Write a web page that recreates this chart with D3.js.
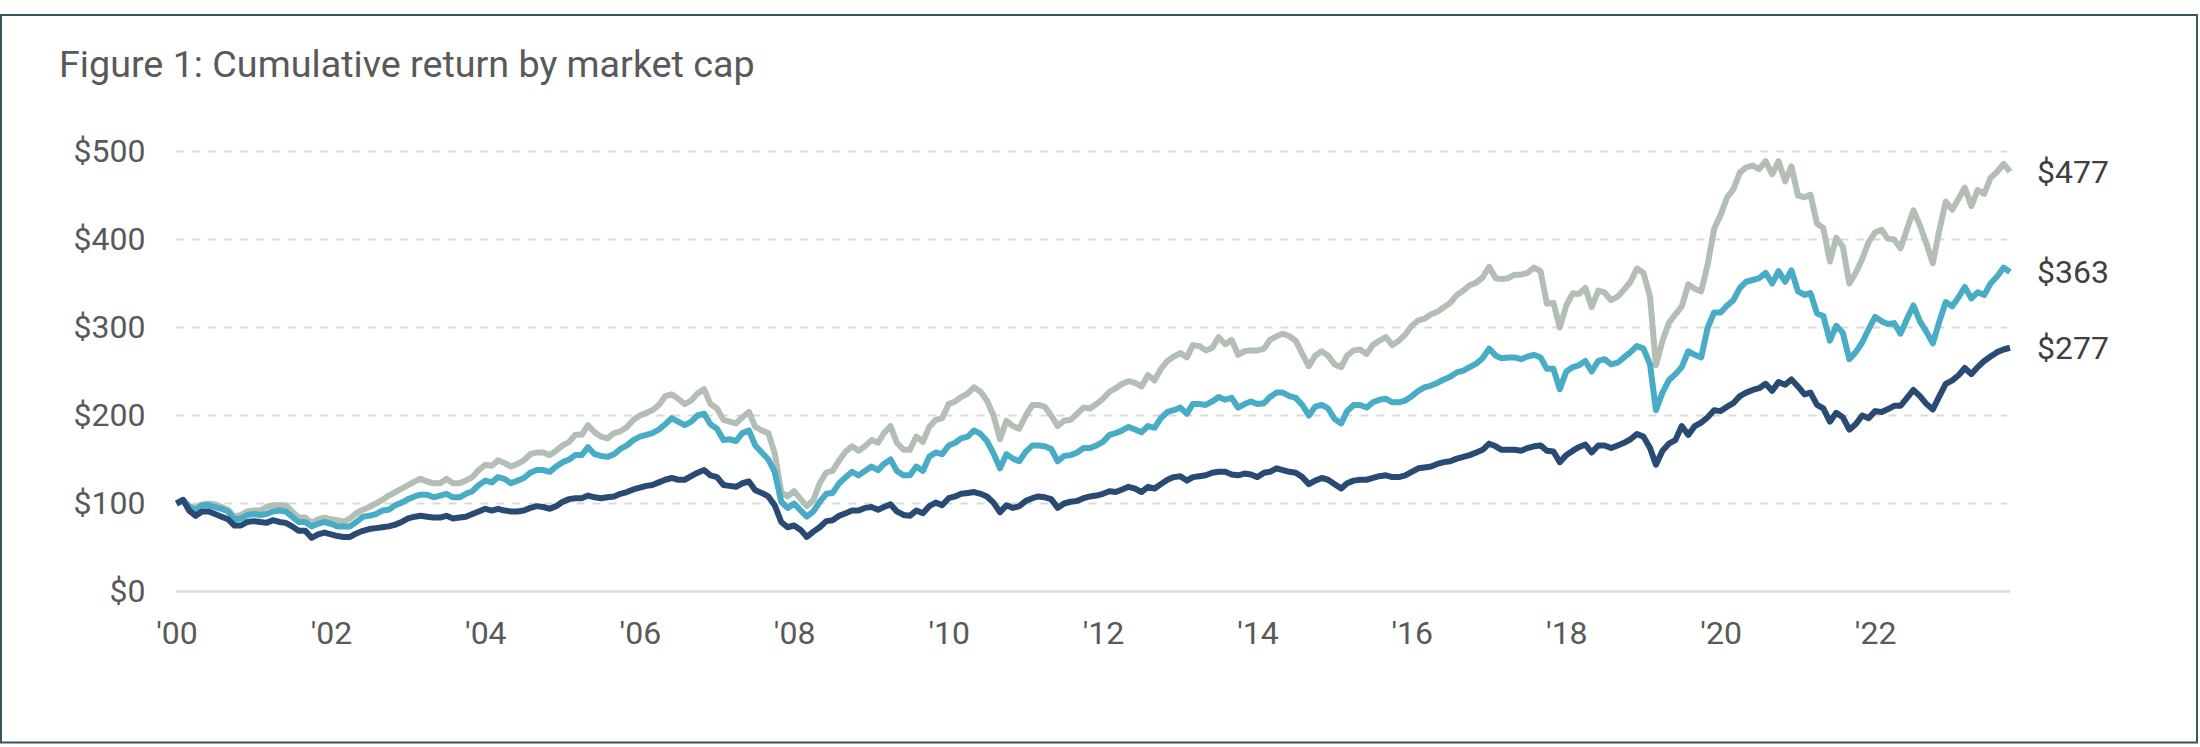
<!DOCTYPE html>
<html>
<head>
<meta charset="utf-8">
<script src="https://cdn.jsdelivr.net/npm/d3@7"></script>
<style>
  body { margin: 0; background: #fff; }
  text { font-family: Roboto, "Noto Sans", sans-serif; }
</style>
</head>
<body>
<svg id="chart" width="2200" height="747"></svg>
<script>
// monthly values, Jan 2000 onwards (growth of $100)
const startMonth = new Date(2000, 0, 1);
const yTicks = [0, 100, 200, 300, 400, 500];
const xTickYears = [2000, 2002, 2004, 2006, 2008, 2010, 2012, 2014, 2016, 2018, 2020, 2022];

const smallCap = [
  100,104,97,95,99,100,99,96,93,85,
  87,91,92,92,96,98,98,98,91,84,
  84,78,82,84,82,81,79,83,89,93,
  96,100,104,109,113,117,121,125,128,125,
  123,123,128,123,123,126,130,138,144,143,
  149,146,142,145,149,156,158,158,155,160,
  166,170,178,178,189,181,176,174,180,182,
  187,195,200,203,206,212,222,224,219,213,
  217,225,230,213,208,195,193,191,198,204,
  187,183,180,157,113,108,114,105,97,104,
  123,135,137,149,159,165,160,165,172,169,
  180,188,169,161,161,176,170,187,195,197,
  213,216,221,225,232,227,217,200,173,194,
  188,185,200,212,212,210,200,188,194,195,
  202,209,208,213,219,227,231,236,239,237,
  233,246,240,253,262,267,271,266,280,279,
  274,277,289,281,286,269,273,274,274,276,
  286,290,293,290,285,270,256,268,273,268,
  258,255,268,274,275,270,280,285,289,280,
  285,292,302,308,310,315,318,323,328,337,
  342,348,351,357,369,356,355,356,360,360,
  362,368,364,327,328,300,325,339,338,345,
  323,342,340,331,335,343,352,367,362,335,
  257,285,305,315,324,349,344,341,372,412,
  428,448,457,476,482,484,480,489,474,489,
  466,483,450,448,451,418,413,375,402,392,
  350,362,378,397,408,411,401,400,390,412,
  433,416,395,373,411,443,434,447,459,438,
  456,452,470,477,486,477
];

const midCap = [
  100,104,96,93,98,98,96,94,91,82,
  83,87,88,87,88,91,92,91,85,79,
  79,74,77,79,77,74,74,74,79,85,
  86,88,92,93,98,101,105,108,110,110,
  107,109,111,107,107,111,114,121,126,124,
  130,128,123,126,129,135,138,138,136,142,
  147,150,155,155,164,156,154,153,156,162,
  166,172,176,178,180,184,190,197,193,189,
  193,200,202,190,185,172,173,171,180,183,
  166,158,150,136,102,95,100,92,85,91,
  102,111,112,123,130,136,132,137,142,138,
  145,150,137,132,132,142,137,153,158,156,
  166,169,174,176,183,179,171,157,140,156,
  151,148,159,166,166,165,162,148,154,155,
  158,163,163,166,170,178,180,183,187,184,
  181,188,186,197,204,206,209,202,213,213,
  212,216,221,218,220,209,213,216,213,214,
  221,226,226,222,220,212,200,210,212,208,
  196,191,205,212,212,209,215,218,219,215,
  215,217,222,228,232,234,237,241,244,249,
  251,255,259,265,276,268,265,266,266,264,
  267,269,266,253,253,230,250,255,257,262,
  250,262,264,258,260,266,272,279,276,258,
  206,226,240,247,255,273,269,266,300,317,
  317,325,331,345,352,354,356,362,350,364,
  352,365,341,337,339,316,313,285,302,294,
  264,272,283,298,312,307,304,305,293,310,
  325,307,295,282,307,329,324,335,346,333,
  340,337,350,358,368,363
];

const largeCap = [
  100,104,92,86,91,91,88,85,82,75,
  75,79,80,79,78,81,79,78,74,69,
  69,61,65,67,65,63,62,62,66,69,
  71,72,73,74,76,79,83,85,86,85,
  84,84,86,83,84,85,88,91,94,92,
  94,92,91,91,92,95,97,96,94,97,
  102,105,106,106,109,107,106,107,108,111,
  113,116,118,120,121,124,127,129,127,127,
  131,135,138,132,130,121,120,119,123,125,
  115,112,108,98,79,73,75,70,62,68,
  73,80,81,86,89,92,92,95,96,93,
  96,99,91,87,86,92,89,97,101,98,
  106,108,111,112,113,111,108,101,90,98,
  95,97,103,106,108,107,105,95,100,102,
  103,106,108,109,111,114,113,116,119,117,
  113,119,117,122,127,130,131,126,130,131,
  132,135,136,136,133,132,134,133,130,135,
  136,140,138,136,135,130,122,126,129,127,
  122,117,123,126,127,127,129,131,132,130,
  130,132,136,140,141,142,145,147,148,151,
  153,155,158,161,168,165,161,161,161,160,
  163,165,166,160,159,147,155,160,164,167,
  158,166,166,163,166,169,173,179,176,163,
  144,160,168,172,188,178,188,192,198,206,
  205,210,214,222,226,229,231,236,228,238,
  235,241,233,224,226,212,208,193,203,198,
  184,190,200,197,205,204,207,211,211,220,
  229,222,213,207,222,236,240,246,254,247,
  255,262,267,272,275,277
];

const series = [
  { name: 'Small cap', values: smallCap, color: '#b3beb4' },
  { name: 'Mid cap', values: midCap, color: '#49acc6' },
  { name: 'Large cap', values: largeCap, color: '#294a73' }
];

const svg = d3.select('#chart');

const n = largeCap.length;
const dates = d3.range(n).map(i => d3.timeMonth.offset(startMonth, i));

const x = d3.scaleTime().domain([dates[0], dates[n - 1]]).range([176.5, 2010]);
const y = d3.scaleLinear().domain([0, 500]).range([591.5, 151.5]);

// frame
svg.append('rect')
  .attr('x', 1).attr('y', 15).attr('width', 2196).attr('height', 727.5)
  .attr('fill', 'none').attr('stroke', '#3a5461').attr('stroke-width', 2);

// title
svg.append('text')
  .attr('x', 59).attr('y', 77)
  .attr('font-size', 37.7).attr('fill', '#595959')
  .text('Figure 1: Cumulative return by market cap');

// grid
svg.append('g').selectAll('line').data(yTicks).join('line')
  .attr('x1', 176.5)
  .attr('x2', d => d === 0 ? 2010 : 2007)
  .attr('y1', d => y(d)).attr('y2', d => y(d))
  .attr('stroke', '#d9d9d9')
  .attr('stroke-width', d => d === 0 ? 2.5 : 2)
  .attr('stroke-dasharray', d => d === 0 ? null : '8,8');

// y axis
const yAxis = svg.append('g').attr('transform', 'translate(176.5,0)')
  .call(d3.axisLeft(y).tickValues(yTicks).tickFormat(d => '$' + d).tickSize(0).tickPadding(31));
yAxis.select('.domain').remove();
yAxis.selectAll('text').attr('font-size', 32).attr('fill', '#595959');

// x axis
const xAxis = svg.append('g').attr('transform', `translate(0,${y(0)})`)
  .call(d3.axisBottom(x)
    .tickValues(xTickYears.map(yr => new Date(yr, 0, 1)))
    .tickFormat(d3.timeFormat("'%y"))
    .tickSize(0).tickPadding(30));
xAxis.select('.domain').remove();
xAxis.selectAll('text').attr('font-size', 32).attr('fill', '#595959');
svg.selectAll('g').attr('font-family', null);

// lines
const line = d3.line().x((d, i) => x(dates[i])).y(d => y(d));

svg.append('g').selectAll('path').data(series).join('path')
  .attr('d', d => line(d.values))
  .attr('fill', 'none')
  .attr('stroke', d => d.color)
  .attr('stroke-width', 6)
  .attr('stroke-linejoin', 'round');

// end labels
svg.append('g').selectAll('text').data(series).join('text')
  .attr('x', 2037)
  .attr('y', d => y(d.values[d.values.length - 1]))
  .attr('dy', '0.35em')
  .attr('font-size', 32).attr('fill', '#404040')
  .text(d => '$' + d.values[d.values.length - 1]);
</script>
</body>
</html>
